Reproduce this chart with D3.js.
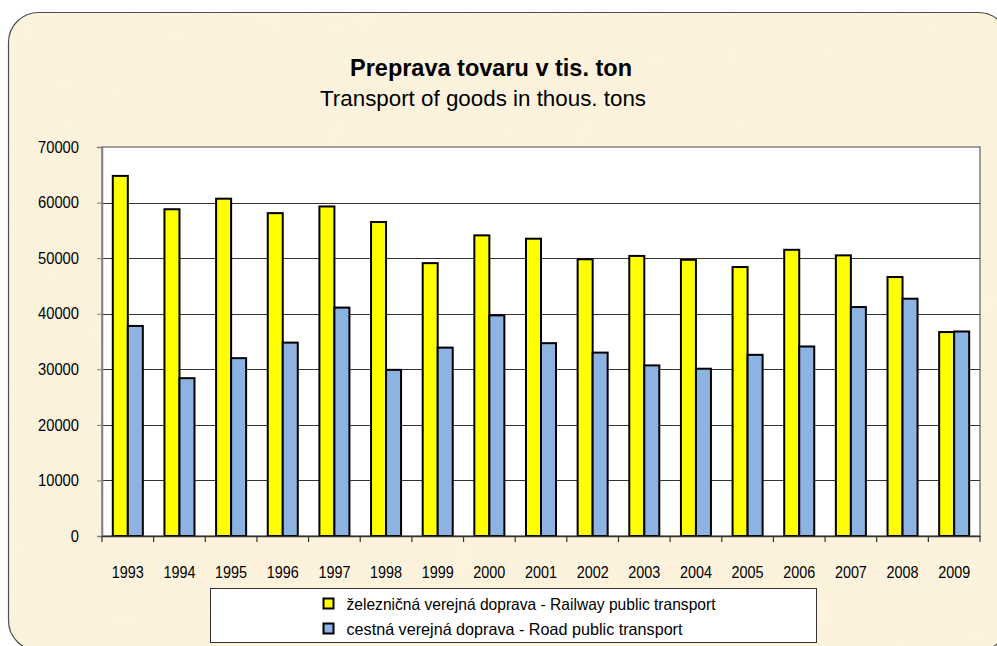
<!DOCTYPE html>
<html lang="sk">
  <head>
    <meta charset="UTF-8" />
    <title>Preprava tovaru v tis. ton</title>
    <script src="https://d3js.org/d3.v7.min.js"></script>
    <style>
      body {
        margin: 0;
        background: #ffffff;
        font-family: "Liberation Sans", Arial, sans-serif;
      }
    </style>
  </head>
  <body>
    <div id="chart"></div>
    <script>
      // data (thousand tons)
      const years = ["1993", "1994", "1995", "1996", "1997", "1998", "1999", "2000", "2001",
        "2002", "2003", "2004", "2005", "2006", "2007", "2008", "2009"];
      const railway = [64800, 58800, 60700, 58100, 59300, 56500, 49100, 54100, 53500,
        49800, 50400, 49700, 48400, 51500, 50500, 46600, 36700];
      const road = [37800, 28400, 32000, 34800, 41100, 29900, 33900, 39700, 34700,
        33000, 30700, 30100, 32600, 34100, 41200, 42700, 36800];
      const seriesNames = [
        "železničná verejná doprava - Railway public transport",
        "cestná verejná doprava - Road public transport",
      ];
      const seriesColors = ["#ffff00", "#8db3e2"];
      const yTicks = [0, 10000, 20000, 30000, 40000, 50000, 60000, 70000];

      const width = 997;
      const height = 646;
      const plot = { left: 102, right: 980, top: 147, bottom: 536 };

      const svg = d3
        .select("#chart")
        .append("svg")
        .attr("width", width)
        .attr("height", height);

      // parchment-like background frame
      const defs = svg.append("defs");
      const filt = defs.append("filter").attr("id", "paper");
      filt
        .append("feTurbulence")
        .attr("type", "fractalNoise")
        .attr("baseFrequency", 0.025)
        .attr("numOctaves", 3)
        .attr("seed", 4);
      filt
        .append("feColorMatrix")
        .attr("values", "0 0 0 0 0.94  0 0 0 0 0.86  0 0 0 0 0.70  0 0 0 0.3 0");
      filt.append("feComposite").attr("in2", "SourceGraphic").attr("operator", "in");

      const frame = { x: 8.5, y: 12.5, w: 1000, h: 638, r: 30 };
      ["base", "tex", "edge"].forEach((k) => {
        const r = svg
          .append("rect")
          .attr("x", frame.x)
          .attr("y", frame.y)
          .attr("width", frame.w)
          .attr("height", frame.h)
          .attr("rx", frame.r);
        if (k === "base") r.attr("fill", "#fdf3dd");
        if (k === "tex") r.attr("fill", "#fdf3dd").attr("filter", "url(#paper)");
        if (k === "edge") r.attr("fill", "none").attr("stroke", "#4d4d4d").attr("stroke-width", 1.2);
      });

      // titles
      svg
        .append("text")
        .attr("x", 491)
        .attr("y", 76)
        .attr("text-anchor", "middle")
        .attr("font-size", 23)
        .attr("font-weight", "bold")
        .attr("textLength", 282)
        .attr("lengthAdjust", "spacingAndGlyphs")
        .text("Preprava tovaru v tis. ton");
      svg
        .append("text")
        .attr("x", 483)
        .attr("y", 106)
        .attr("text-anchor", "middle")
        .attr("font-size", 22)
        .attr("textLength", 326)
        .attr("lengthAdjust", "spacingAndGlyphs")
        .text("Transport of goods in thous. tons");

      // scales
      const x = d3.scaleBand().domain(years).range([plot.left, plot.right]).padding(0);
      const xs = d3
        .scaleBand()
        .domain([0, 1])
        .range([0, x.bandwidth()])
        .paddingInner(0)
        .paddingOuter(0.72);
      const y = d3.scaleLinear().domain([0, 70000]).range([plot.bottom, plot.top]);

      // plot area
      svg
        .append("rect")
        .attr("x", plot.left)
        .attr("y", plot.top)
        .attr("width", plot.right - plot.left)
        .attr("height", plot.bottom - plot.top)
        .attr("fill", "#ffffff")
        .attr("stroke", "#808080")
        .attr("stroke-width", 1.5);

      svg
        .append("g")
        .selectAll("line")
        .data(yTicks.slice(1, -1))
        .join("line")
        .attr("x1", plot.left)
        .attr("x2", plot.right)
        .attr("y1", (d) => Math.round(y(d)) + 0.5)
        .attr("y2", (d) => Math.round(y(d)) + 0.5)
        .attr("stroke", "#333333")
        .attr("stroke-width", 1.2);

      // bars
      const series = [railway, road];
      const groups = svg
        .append("g")
        .selectAll("g")
        .data(years)
        .join("g")
        .attr("transform", (d) => `translate(${x(d)},0)`);

      groups
        .selectAll("rect")
        .data((d, i) => series.map((s, k) => ({ k, v: s[i] })))
        .join("rect")
        .attr("x", (d) => xs(d.k))
        .attr("y", (d) => y(d.v))
        .attr("width", xs.bandwidth())
        .attr("height", (d) => y(0) - y(d.v))
        .attr("fill", (d) => seriesColors[d.k])
        .attr("stroke", "#000")
        .attr("stroke-width", 2);

      // axes
      const yAxis = d3
        .axisLeft(y)
        .tickValues(yTicks)
        .tickSize(5)
        .tickPadding(18)
        .tickFormat(d3.format("d"));
      const ya = svg.append("g").attr("transform", `translate(${plot.left},0)`).call(yAxis);
      ya.select(".domain").attr("stroke", "#808080").attr("stroke-width", 1.5);
      ya.selectAll(".tick line").attr("stroke", "#808080");
      ya.selectAll("text")
        .attr("font-family", "Liberation Sans, Arial, sans-serif")
        .attr("font-size", 16.5)
        .attr("fill", "#000")
        .attr("textLength", (d) => 8.2 * String(d).length)
        .attr("lengthAdjust", "spacingAndGlyphs");

      const xAxis = d3.axisBottom(x).tickSize(0).tickPadding(30);
      const xa = svg.append("g").attr("transform", `translate(0,${plot.bottom})`).call(xAxis);
      xa.select(".domain").attr("stroke", "#333").attr("stroke-width", 1.5);
      xa.selectAll("text")
        .attr("font-family", "Liberation Sans, Arial, sans-serif")
        .attr("font-size", 16.5)
        .attr("fill", "#000")
        .attr("textLength", 32)
        .attr("lengthAdjust", "spacingAndGlyphs");
      // tick marks at category boundaries
      svg
        .append("g")
        .selectAll("line")
        .data(years.concat(["end"]))
        .join("line")
        .attr("x1", (d, i) => plot.left + i * x.step())
        .attr("x2", (d, i) => plot.left + i * x.step())
        .attr("y1", plot.bottom)
        .attr("y2", plot.bottom + 6)
        .attr("stroke", "#333")
        .attr("stroke-width", 1.2);

      // legend
      const lg = svg.append("g").attr("transform", "translate(210.5,588.5)");
      lg.append("rect")
        .attr("width", 606)
        .attr("height", 54)
        .attr("fill", "#fff")
        .attr("stroke", "#333")
        .attr("stroke-width", 1);
      const legendWidths = [369, 336];
      const li = lg
        .selectAll("g.item")
        .data(seriesNames)
        .join("g")
        .attr("class", "item")
        .attr("transform", (d, i) => `translate(113,${15 + i * 25})`);
      li.append("rect")
        .attr("x", 0)
        .attr("y", -5)
        .attr("width", 10)
        .attr("height", 10)
        .attr("fill", (d, i) => seriesColors[i])
        .attr("stroke", "#000")
        .attr("stroke-width", 2);
      li.append("text")
        .attr("x", 23)
        .attr("y", 6)
        .attr("font-size", 16.5)
        .attr("textLength", (d, i) => legendWidths[i])
        .attr("lengthAdjust", "spacingAndGlyphs")
        .text((d) => d);
    </script>
  </body>
</html>
